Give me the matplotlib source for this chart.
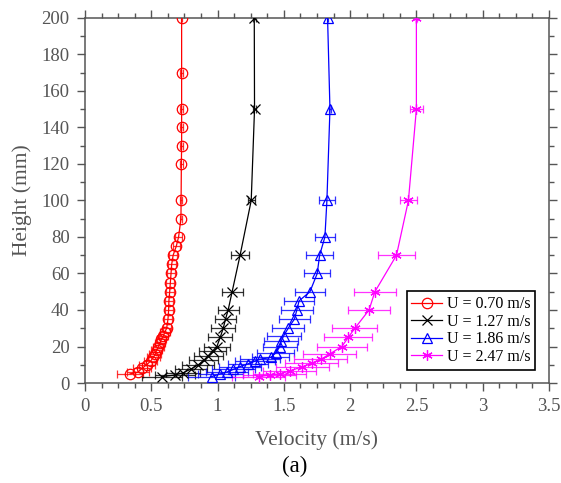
import numpy as np
import matplotlib
matplotlib.use("Agg")
import matplotlib.pyplot as plt
from matplotlib.ticker import MultipleLocator

plt.rcParams["font.family"] = ["Liberation Serif", "DejaVu Serif"]

# ----------------------------
# DATA (velocity in m/s, height in mm, half error in m/s)
# ----------------------------
h_070   = [5, 6, 8, 10, 12, 14, 16, 18, 20, 22, 24, 26, 28, 30, 35, 40, 45, 50, 55, 60, 65, 70, 75, 80, 90, 100, 120, 130, 140, 150, 170, 200]
v_070   = [0.34, 0.40, 0.43, 0.465, 0.495, 0.515, 0.53, 0.54, 0.553, 0.566, 0.576, 0.591, 0.603, 0.616, 0.626, 0.631, 0.633, 0.639, 0.644, 0.649, 0.654, 0.665, 0.689, 0.706, 0.724, 0.725, 0.727, 0.729, 0.729, 0.729, 0.729, 0.729]
e_070   = [0.10, 0.08, 0.07, 0.06, 0.05, 0.05, 0.045, 0.04, 0.04, 0.04, 0.035, 0.035, 0.035, 0.03, 0.03, 0.03, 0.03, 0.03, 0.03, 0.03, 0.03, 0.03, 0.025, 0.025, 0.01, 0.01, 0.01, 0.01, 0.01, 0.01, 0.01, 0.005]

h_127   = [3.5, 4.4, 5.6, 7.7, 10, 12.5, 15, 17.5, 20, 25, 30, 35, 40, 50, 70, 100, 150, 200]
v_127   = [0.58, 0.68, 0.74, 0.80, 0.855, 0.897, 0.93, 0.962, 0.995, 1.02, 1.043, 1.06, 1.08, 1.11, 1.17, 1.254, 1.279, 1.277]
e_127   = [0.15, 0.15, 0.13, 0.12, 0.12, 0.11, 0.11, 0.10, 0.10, 0.09, 0.09, 0.08, 0.08, 0.08, 0.07, 0.025, 0.01, 0.01]

h_186   = [3.5, 5, 6, 7.5, 9, 10.5, 12, 13, 14, 16.5, 20, 23, 26, 30, 35, 40, 45, 50, 60, 70, 80, 100, 150, 200]
v_186   = [0.955, 1.02, 1.07, 1.12, 1.17, 1.23, 1.28, 1.32, 1.40, 1.44, 1.47, 1.48, 1.50, 1.533, 1.58, 1.598, 1.615, 1.697, 1.752, 1.77, 1.81, 1.825, 1.848, 1.83]
e_186   = [0.18, 0.17, 0.16, 0.16, 0.16, 0.15, 0.15, 0.15, 0.14, 0.14, 0.13, 0.13, 0.13, 0.12, 0.12, 0.12, 0.11, 0.11, 0.10, 0.10, 0.075, 0.06, 0.01, 0.005]

h_247   = [3.5, 4.4, 5, 6.7, 8.9, 10.8, 13, 16, 20, 25, 30, 40, 50, 70, 100, 150, 200]
v_247   = [1.31, 1.395, 1.47, 1.546, 1.64, 1.709, 1.78, 1.848, 1.938, 1.986, 2.036, 2.143, 2.187, 2.35, 2.44, 2.50, 2.50]
e_247   = [0.20, 0.20, 0.20, 0.20, 0.20, 0.20, 0.20, 0.20, 0.19, 0.18, 0.17, 0.16, 0.16, 0.14, 0.067, 0.05, 0.005]

labels  = ["U = 0.70 m/s", "U = 1.27 m/s", "U = 1.86 m/s", "U = 2.47 m/s"]

# ----------------------------
# CHART
# ----------------------------
series  = [
    (v_070, h_070, e_070, "#ff0000", "o"),
    (v_127, h_127, e_127, "#000000", "x"),
    (v_186, h_186, e_186, "#0000ff", "^"),
    (v_247, h_247, e_247, "#ff00ff", (6, 2, 0)),
]

grey    = "#555555"

fig     = plt.figure(figsize=(5.61, 4.83), dpi=100)
ax      = fig.add_axes([0.1515, 0.207, 0.827, 0.756])

for (v, h, e, col, mk), lab in zip(series, labels):
    ax.errorbar(v, h, xerr=e, fmt="none", ecolor=col, elinewidth=0.9,
                capsize=3, capthick=0.9, alpha=0.8, zorder=2)
    ax.plot(v, h, color=col, linewidth=0.9, marker=mk, markersize=7.5,
            markerfacecolor="none", markeredgecolor=col, markeredgewidth=0.9,
            label=lab, zorder=3)

ax.set_xlim(0, 3.5)
ax.set_ylim(0, 200)
ax.xaxis.set_major_locator(MultipleLocator(0.5))
ax.xaxis.set_minor_locator(MultipleLocator(0.125))
ax.yaxis.set_major_locator(MultipleLocator(20))
ax.yaxis.set_minor_locator(MultipleLocator(10))
ax.xaxis.set_major_formatter(plt.FuncFormatter(lambda x, p: f"{x:g}"))

ax.tick_params(which="both", direction="out", top=True, right=True,
               color=grey, labelcolor=grey, labelsize=13.5)
ax.tick_params(which="major", length=6, width=1, pad=5)
ax.tick_params(which="minor", length=3.5, width=1)
for sp in ax.spines.values():
    sp.set_color(grey)
    sp.set_linewidth(1.1)

ax.set_xlabel("Velocity (m/s)", fontsize=15.5, color=grey, labelpad=11)
ax.set_ylabel("Height (mm)", fontsize=15.5, color=grey, labelpad=7)

leg     = ax.legend(loc="lower right", bbox_to_anchor=(0.970, 0.036),
                    borderaxespad=0, fontsize=11.5, fancybox=False,
                    framealpha=1, edgecolor="black", handlelength=1.9,
                    handletextpad=0.3, borderpad=0.3, labelspacing=0.1)
leg.get_frame().set_linewidth(1.2)

fig.text(0.525, 0.035, "(a)", ha="center", va="center", fontsize=16.5)

fig.savefig("out.png", dpi=100)
